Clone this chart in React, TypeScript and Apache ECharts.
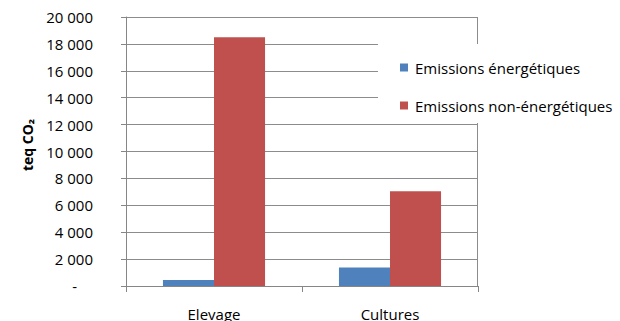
import React, { useEffect, useRef } from "react";
import * as echarts from "echarts";

const categories = ["Elevage", "Cultures"];
const energetiques = [450, 1380];
const nonEnergetiques = [18500, 7050];
const seriesNames = ["Emissions énergétiques", "Emissions non-énergétiques"];
const yTitle = "teq CO₂";

const FONT = "'Open Sans', 'Noto Sans', sans-serif";

function fmt(v: number): string {
  if (v === 0) return "{d|-}";
  const s = String(Math.round(v));
  return s.replace(/\B(?=(\d{3})+(?!\d))/g, " ");
}

export default function App() {
  const ref = useRef<HTMLDivElement>(null);
  useEffect(() => {
    if (!ref.current) return;
    const chart = echarts.init(ref.current, null, { renderer: "svg" });
    chart.setOption({
      animation: false,
      backgroundColor: "#ffffff",
      textStyle: { fontFamily: FONT },
      grid: { left: 126, right: 142, top: 17, bottom: 34, containLabel: false },
      legend: {
        orient: "vertical",
        left: 378,
        top: 44,
        padding: [16, 10, 10, 22],
        backgroundColor: "#ffffff",
        itemWidth: 8,
        itemHeight: 8,
        itemGap: 23,
        icon: "rect",
        textStyle: { fontFamily: FONT, fontSize: 15, color: "#000000", padding: [0, 0, 0, 2] },
        data: seriesNames,
      },
      xAxis: {
        type: "category",
        data: categories,
        boundaryGap: true,
        axisLine: { show: true, lineStyle: { color: "#868686", width: 1 } },
        axisTick: { show: true, length: 6, alignWithLabel: false, lineStyle: { color: "#868686" } },
        axisLabel: { margin: 20, fontFamily: FONT, fontSize: 15, color: "#000000" },
        splitLine: { show: false },
      },
      yAxis: {
        type: "value",
        min: 0,
        max: 20000,
        interval: 2000,
        axisLine: { show: true, lineStyle: { color: "#868686", width: 1 } },
        axisTick: { show: true, length: 5, lineStyle: { color: "#868686" } },
        axisLabel: {
          margin: 33,
          fontFamily: FONT,
          fontSize: 15,
          color: "#000000",
          formatter: (v: number) => fmt(v),
          rich: { d: { padding: [0, 16, 0, 0], fontFamily: FONT, fontSize: 15, color: "#000000" } },
        },
        splitLine: { show: true, lineStyle: { color: "#8c8c8c", width: 1 } },
      },
      graphic: [
        {
          type: "line",
          z: 0,
          shape: { x1: 477.5, y1: 17, x2: 477.5, y2: 287 },
          style: { stroke: "#8c8c8c", lineWidth: 1 },
        },
        {
          type: "text",
          x: 27,
          y: 145,
          rotation: Math.PI / 2,
          style: {
            text: yTitle,
            fontFamily: FONT,
            fontSize: 14,
            fontWeight: "bold",
            fill: "#000000",
            textAlign: "center",
            textVerticalAlign: "middle",
          },
        },
      ],
      series: [
        {
          name: seriesNames[0],
          type: "bar",
          data: energetiques,
          barGap: "0%",
          barCategoryGap: "42%",
          itemStyle: { color: "#4F81BD" },
        },
        {
          name: seriesNames[1],
          type: "bar",
          data: nonEnergetiques,
          barGap: "0%",
          barCategoryGap: "42%",
          itemStyle: { color: "#C0504D" },
        },
      ],
    });
    return () => chart.dispose();
  }, []);
  return <div ref={ref} style={{ position: "absolute", left: 0, top: 0, width: 620, height: 321 }} />;
}
